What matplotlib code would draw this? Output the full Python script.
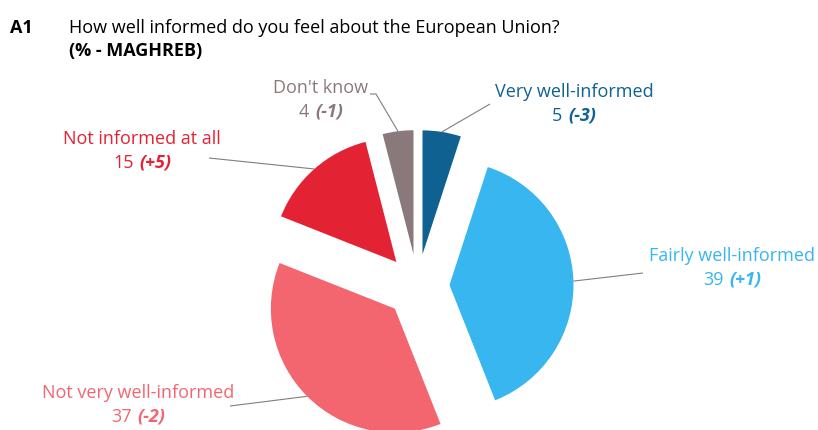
import numpy as np
import matplotlib.pyplot as plt
from matplotlib.offsetbox import TextArea, HPacker, VPacker, AnnotationBbox

plt.rcParams['font.family'] = ['Open Sans', 'DejaVu Sans']

# data (clockwise from 12 o'clock)
labels = ['Very well-informed', 'Fairly well-informed', 'Not very well-informed',
          'Not informed at all', "Don't know"]
values = [5, 39, 37, 15, 4]
changes = ['-3', '+1', '-2', '+5', '-1']
colors = ['#0F6192', '#38B6EF', '#F4666F', '#E32233', '#8A797B']

W, H = 818, 430
fs = 13

fig = plt.figure(figsize=(W / 100, H / 100), dpi=100)
ax = fig.add_axes([0, 0, 1, 1])

# pie laid out in pixel units (y measured from bottom); explode is absolute
wedges, _ = ax.pie(values, colors=colors, startangle=90, counterclock=False,
                   explode=[32] * len(values), radius=124, center=(417.5, 144),
                   wedgeprops=dict(linewidth=0))
ax.set_xlim(0, W)
ax.set_ylim(0, H)
ax.set_aspect('auto')
ax.axis('off')

# label block centres and leader end points (pixels from top-left)
label_pos = [(574, 104), (732, 268), (138, 405), (142, 151), (321, 100)]
leader_end = [[(490, 104)], [(643, 273)], [(230, 406)], [(209, 158)], [(376, 94), (370, 94)]]

for w, lab, v, ch, c, (lx, ly), ends in zip(wedges, labels, values, changes, colors,
                                            label_pos, leader_end):
    mid = np.deg2rad((w.theta1 + w.theta2) / 2)
    sx = w.center[0] + w.r * np.cos(mid)
    sy = w.center[1] + w.r * np.sin(mid)
    xs = [sx] + [p[0] for p in ends]
    ys = [sy] + [H - p[1] for p in ends]
    ax.plot(xs, ys, color='#7F7F7F', lw=0.8, solid_capstyle='butt')

    line1 = TextArea(lab, textprops=dict(color=c, fontsize=fs))
    num = TextArea(str(v), textprops=dict(color=c, fontsize=fs))
    chg = TextArea('(' + ch + ')', textprops=dict(color=c, fontsize=fs,
                                                  fontweight='bold', fontstyle='italic'))
    line2 = HPacker(children=[num, chg], sep=4, pad=0, align='baseline')
    box = VPacker(children=[line1, line2], sep=4, pad=0, align='center')
    ab = AnnotationBbox(box, (lx, H - ly), xycoords='data', frameon=False,
                        box_alignment=(0.5, 0.5), pad=0, annotation_clip=False)
    ax.add_artist(ab)

# title
fig.text(10 / W, 1 - 28 / H, 'A1', fontsize=fs, fontweight='bold', va='center')
fig.text(69 / W, 1 - 28 / H, 'How well informed do you feel about the European Union?',
         fontsize=fs, va='center')
fig.text(69 / W, 1 - 51 / H, '(% - MAGHREB)', fontsize=fs, fontweight='bold', va='center')

fig.savefig('out.png', dpi=100)
